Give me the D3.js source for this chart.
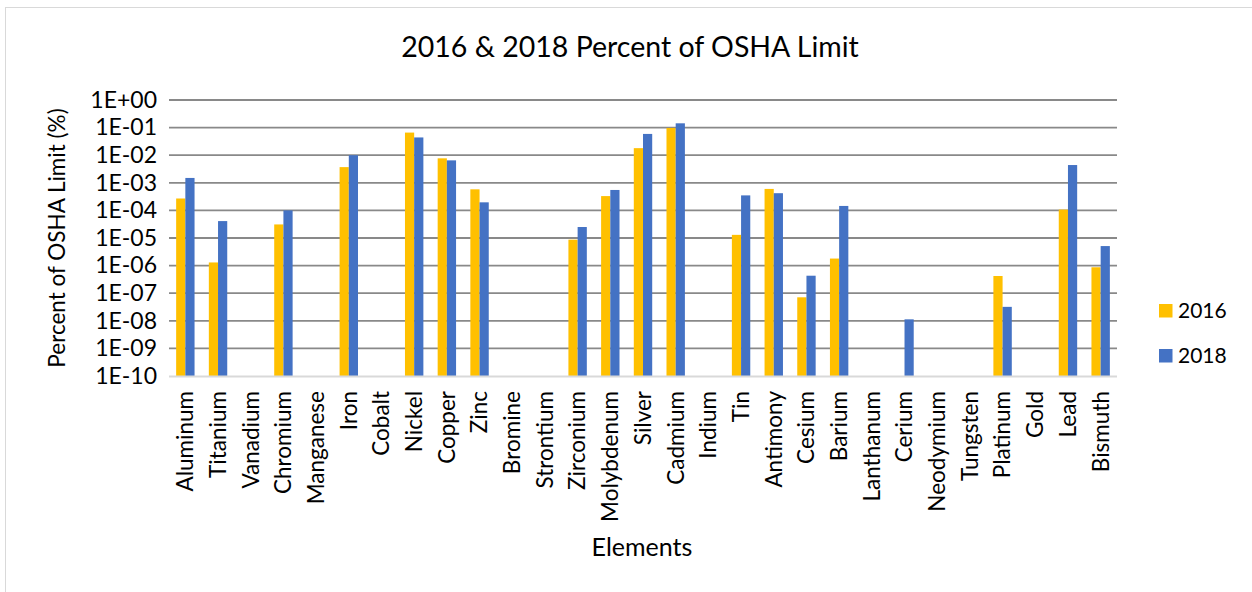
<!DOCTYPE html>
<html>
<head>
<meta charset="utf-8">
<script src="https://cdn.jsdelivr.net/npm/d3@7"></script>
<style>
  html, body { margin: 0; padding: 0; background: #fff; }
  svg { display: block; font-family: Lato, "Open Sans", sans-serif; }
</style>
</head>
<body>
<svg id="chart" width="1252" height="592"></svg>
<script>
// Elements measured, in chart order
const elements = ["Aluminum", "Titanium", "Vanadium", "Chromium", "Manganese", "Iron", "Cobalt",
  "Nickel", "Copper", "Zinc", "Bromine", "Strontium", "Zirconium", "Molybdenum", "Silver",
  "Cadmium", "Indium", "Tin", "Antimony", "Cesium", "Barium", "Lanthanum", "Cerium",
  "Neodymium", "Tungsten", "Platinum", "Gold", "Lead", "Bismuth"];

// Percent of OSHA limit (null = not detected)
const values2016 = [2.7e-4, 1.3e-6, null, 3.1e-5, null, 3.7e-3, null,
  6.6e-2, 7.7e-3, 5.8e-4, null, null, 8.7e-6, 3.3e-4, 1.8e-2,
  9.7e-2, null, 1.3e-5, 6.0e-4, 7.1e-8, 1.8e-6, null, null,
  null, null, 4.2e-7, null, 1.07e-4, 8.7e-7];
const values2018 = [1.5e-3, 4.1e-5, null, 1.0e-4, null, 1.0e-2, null,
  4.4e-2, 6.5e-3, 1.96e-4, null, null, 2.5e-5, 5.5e-4, 5.9e-2,
  1.43e-1, null, 3.5e-4, 4.2e-4, 4.3e-7, 1.45e-4, null, 1.13e-8,
  null, null, 3.2e-8, null, 4.4e-3, 5.1e-6];

const seriesNames = ["2016", "2018"];
const seriesColors = ["#FFC000", "#4472C4"];
const tickValues = [1, 1e-1, 1e-2, 1e-3, 1e-4, 1e-5, 1e-6, 1e-7, 1e-8, 1e-9, 1e-10];
const tickLabels = ["1E+00", "1E-01", "1E-02", "1E-03", "1E-04", "1E-05", "1E-06", "1E-07", "1E-08", "1E-09", "1E-10"];
</script>
<script>
const svg = d3.select("#chart");

// chart frame
svg.append("rect")
  .attr("x", 5.5).attr("y", 7.5).attr("width", 1260).attr("height", 600)
  .attr("fill", "#fff").attr("stroke", "#d9d9d9").attr("stroke-width", 1);

const plot = { left: 169, right: 1117, top: 100, bottom: 376 };

const x = d3.scaleBand()
  .domain(elements)
  .range([plot.left, plot.right])
  .paddingInner(0.437)
  .paddingOuter(0.2185);

const xs = d3.scaleBand()
  .domain(seriesNames)
  .range([0, x.bandwidth()]);

const y = d3.scaleLog()
  .domain([1e-10, 1])
  .range([plot.bottom, plot.top]);

// gridlines
svg.append("g")
  .selectAll("line")
  .data(tickValues.slice(0, -1))
  .join("line")
  .attr("x1", plot.left).attr("x2", plot.right)
  .attr("y1", d => y(d)).attr("y2", d => y(d))
  .attr("stroke", "#898989").attr("stroke-width", 1.8);

// bars
const series = [values2016, values2018];
const barG = svg.append("g");
series.forEach((vals, si) => {
  barG.selectAll(null)
    .data(elements.map((e, i) => ({ e, v: vals[i] })).filter(d => d.v != null))
    .join("rect")
    .attr("x", d => x(d.e) + xs(seriesNames[si]))
    .attr("width", xs.bandwidth())
    .attr("y", d => y(d.v))
    .attr("height", d => y(1e-10) - y(d.v))
    .attr("fill", seriesColors[si]);
});

// category axis line
svg.append("line")
  .attr("x1", plot.left).attr("x2", plot.right)
  .attr("y1", plot.bottom + 0.5).attr("y2", plot.bottom + 0.5)
  .attr("stroke", "#d9d9d9").attr("stroke-width", 1.8);

// y axis
const yAxis = d3.axisLeft(y)
  .tickValues(tickValues)
  .tickFormat((d, i) => tickLabels[i])
  .tickSize(0)
  .tickPadding(12);
const yg = svg.append("g").attr("transform", `translate(${plot.left},0)`).call(yAxis);
yg.select(".domain").remove();
yg.selectAll("text")
  .attr("font-family", "Lato, sans-serif")
  .attr("font-size", 23)
  .attr("fill", "#000");

// x axis
const xAxis = d3.axisBottom(x).tickSize(0).tickPadding(0);
const xg = svg.append("g").attr("transform", `translate(0,${plot.bottom})`).call(xAxis);
xg.select(".domain").remove();
xg.selectAll("text")
  .attr("font-family", "Lato, sans-serif")
  .attr("font-size", 22.5)
  .attr("fill", "#000")
  .attr("text-anchor", "end")
  .attr("dy", "0.35em")
  .attr("transform", "translate(0,15) rotate(-90)")
  .attr("x", 0).attr("y", 0);

// title
svg.append("text")
  .attr("x", 630).attr("y", 57)
  .attr("text-anchor", "middle")
  .attr("font-size", 28.5)
  .attr("fill", "#000")
  .text("2016 & 2018 Percent of OSHA Limit");

// axis titles
svg.append("text")
  .attr("transform", "translate(65,238) rotate(-90)")
  .attr("text-anchor", "middle")
  .attr("font-size", 22.5)
  .attr("fill", "#000")
  .text("Percent of OSHA Limit (%)");

svg.append("text")
  .attr("x", 642).attr("y", 556)
  .attr("text-anchor", "middle")
  .attr("font-size", 25)
  .attr("fill", "#000")
  .text("Elements");

// legend
const legend = svg.append("g");
seriesNames.forEach((name, i) => {
  const gy = 304 + i * 45;
  legend.append("rect")
    .attr("x", 1159).attr("y", gy)
    .attr("width", 13.5).attr("height", 13.5)
    .attr("fill", seriesColors[i]);
  legend.append("text")
    .attr("x", 1178).attr("y", gy + 13.5)
    .attr("font-size", 21)
    .attr("fill", "#000")
    .text(name);
});
</script>
</body>
</html>
